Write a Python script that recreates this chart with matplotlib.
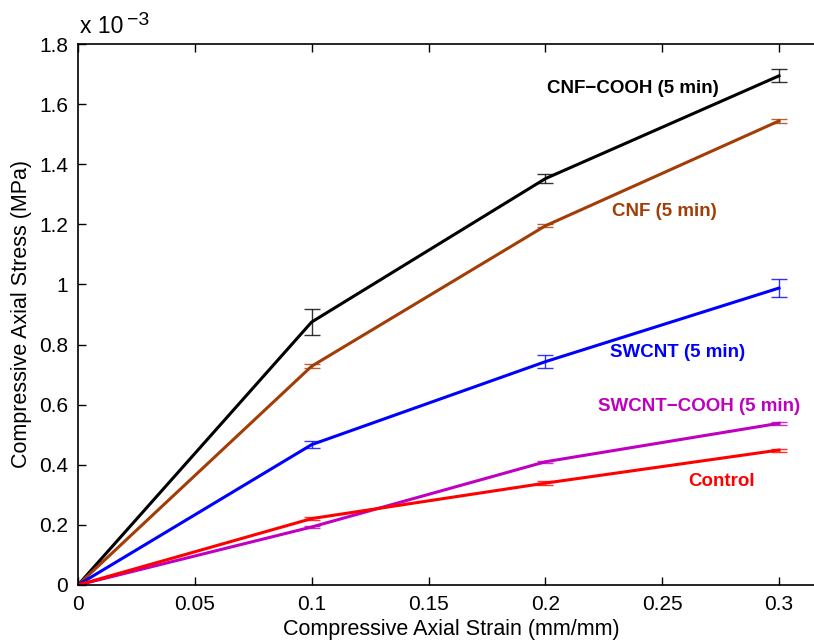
import matplotlib
matplotlib.use('Agg')
import matplotlib.pyplot as plt
from matplotlib.ticker import FuncFormatter

plt.rcParams['font.family'] = ['Liberation Sans', 'DejaVu Sans']

# strain values (mm/mm)
strain = [0, 0.1, 0.2, 0.3]

# stress values (x 1e-3 MPa) and error bars
cnf_cooh = [0, 0.875, 1.352, 1.694]
cnf_cooh_err = [0, 0.042, 0.015, 0.022]
cnf = [0, 0.728, 1.195, 1.544]
cnf_err = [0, 0.006, 0.005, 0.008]
swcnt = [0, 0.467, 0.743, 0.988]
swcnt_err = [0, 0.012, 0.022, 0.029]
swcnt_cooh = [0, 0.193, 0.410, 0.538]
swcnt_cooh_err = [0, 0.003, 0.003, 0.004]
control = [0, 0.221, 0.339, 0.449]
control_err = [0, 0.004, 0.006, 0.005]

labels = ['CNF\u2212COOH (5 min)', 'CNF (5 min)', 'SWCNT (5 min)',
          'SWCNT\u2212COOH (5 min)', 'Control']
label_pos = [(0.2007, 1.653), (0.2286, 1.244), (0.2277, 0.772),
             (0.2225, 0.595), (0.261, 0.346)]
colors = ['black', '#A33D06', '#0000FF', '#BF00BF', '#FF0000']

series = [cnf_cooh, cnf, swcnt, swcnt_cooh, control]
errs = [cnf_cooh_err, cnf_err, swcnt_err, swcnt_cooh_err, control_err]

fig = plt.figure(figsize=(8.14, 6.41), dpi=100)
# x: 0 at 78 px, 0.3 at 779 px; the plot box runs past the right edge
ax = fig.add_axes([78/814, 56/641, 818/814, 541/641])

for y, e, c in zip(series, errs, colors):
    ax.errorbar(strain, y, yerr=e, fmt='none', ecolor=c, elinewidth=1,
                capsize=6, capthick=1, alpha=0.8)
    ax.plot(strain, y, color=c, lw=2.2)

for (tx, ty), lab, c in zip(label_pos, labels, colors):
    ax.text(tx, ty, lab, color=c, fontsize=13.5, fontweight='bold',
            va='center', ha='left')

ax.set_xlim(0, 0.3 * 818 / 701)
ax.set_ylim(0, 1.8)
ax.set_xticks([0, 0.05, 0.1, 0.15, 0.2, 0.25, 0.3])
ax.set_yticks([0, 0.2, 0.4, 0.6, 0.8, 1.0, 1.2, 1.4, 1.6, 1.8])
fmt = FuncFormatter(lambda v, p: '%g' % round(v, 3))
ax.xaxis.set_major_formatter(fmt)
ax.yaxis.set_major_formatter(fmt)
ax.tick_params(direction='in', length=6, width=1, labelsize=15,
               top=True, right=False, pad=7)
ax.spines['right'].set_visible(False)
for s in ax.spines.values():
    s.set_linewidth(1.2)

ax.set_xlabel('Compressive Axial Strain (mm/mm)', fontsize=15.5)
ax.xaxis.set_label_coords((451 - 78) / 818, -0.062)
ax.set_ylabel('Compressive Axial Stress (MPa)', fontsize=15.5, labelpad=5)
fig.text(80/814, 1 - 38/641, 'x 10', fontsize=16.5, ha='left', va='bottom')
fig.text(127/814, 1 - 29/641, '\u22123', fontsize=14, ha='left', va='bottom')

fig.savefig('out.png', dpi=100)
